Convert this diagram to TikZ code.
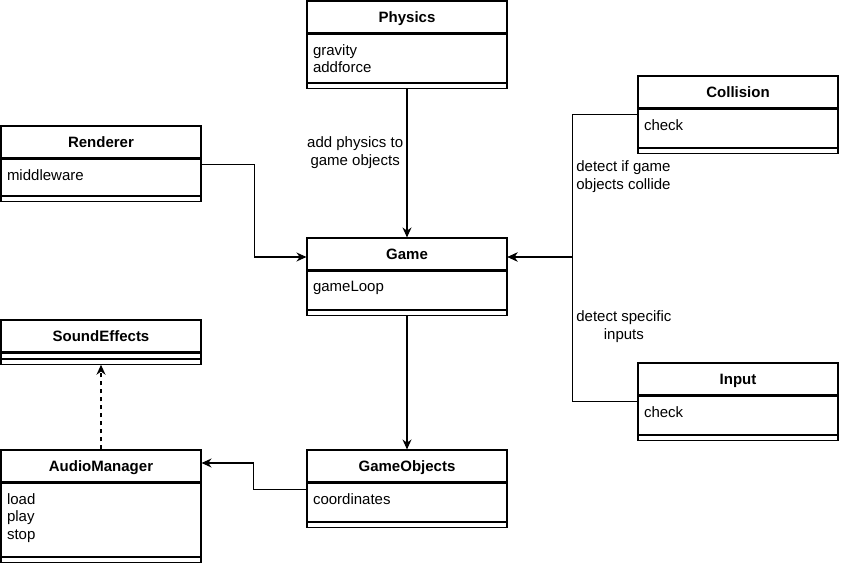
\documentclass[tikz,border=0pt]{standalone}
\usepackage{fontspec}
\setmainfont{Liberation Sans}
\usetikzlibrary{arrows.meta}
\usetikzlibrary{positioning}

\begin{document}
\begin{tikzpicture}[x=1pt,y=-1pt,line width=1.1pt,>={Stealth[length=10pt,width=9pt]},
    head/.style={draw,minimum width=200pt,minimum height=32pt,inner sep=0,text height=11pt,text depth=0pt,font=\fontsize{15}{18}\selectfont\bfseries},
    body/.style={draw,anchor=north,minimum width=200pt,inner sep=0},
    foot/.style={draw,anchor=north,minimum width=200pt,minimum height=5pt,inner sep=0},
    attr/.style={anchor=north west,align=left,inner xsep=6pt,inner ysep=10.5pt,font=\fontsize{15}{17.5}\selectfont},
    lbl/.style={font=\fontsize{15}{18}\selectfont}]
    \useasboundingbox (0,0) rectangle (844,564);

    \node(physics)[head] at (407,17) {Physics};
    \node(physicsbody)[body,minimum height=48pt] at (physics.south) {};
    \node(physicsfoot)[foot] at (physicsbody.south) {};
    \node(physicsattr)[attr] at (physicsbody.north west) {gravity\\addforce};

    \node(renderer)[head] at (101,142) {Renderer};
    \node(rendererbody)[body,minimum height=36pt] at (renderer.south) {};
    \node(rendererfoot)[foot] at (rendererbody.south) {};
    \node(rendererattr)[attr] at (rendererbody.north west) {middleware};

    \node(game)[head] at (407,254) {Game};
    \node(gamebody)[body,minimum height=38pt] at (game.south) {};
    \node(gamefoot)[foot] at (gamebody.south) {};
    \node(gameattr)[attr] at (gamebody.north west) {gameLoop};

    \node(collision)[head] at (738,92) {Collision};
    \node(collisionbody)[body,minimum height=38pt] at (collision.south) {};
    \node(collisionfoot)[foot] at (collisionbody.south) {};
    \node(collisionattr)[attr] at (collisionbody.north west) {check};

    \node(input)[head] at (738,379) {Input};
    \node(inputbody)[body,minimum height=38pt] at (input.south) {};
    \node(inputfoot)[foot] at (inputbody.south) {};
    \node(inputattr)[attr] at (inputbody.north west) {check};

    \node(sound)[head] at (101,336) {SoundEffects};
    \node(soundbody)[body,minimum height=5pt] at (sound.south) {};
    \node(soundfoot)[foot] at (soundbody.south) {};

    \node(audio)[head] at (101,466) {AudioManager};
    \node(audiobody)[body,minimum height=73pt] at (audio.south) {};
    \node(audiofoot)[foot] at (audiobody.south) {};
    \node(audioattr)[attr] at (audiobody.north west) {load\\play\\stop};

    \node(gameobjects)[head] at (407,466) {GameObjects};
    \node(gameobjectsbody)[body,minimum height=38pt] at (gameobjects.south) {};
    \node(gameobjectsfoot)[foot] at (gameobjectsbody.south) {};
    \node(gameobjectsattr)[attr] at (gameobjectsbody.north west) {coordinates};

    \draw[->] (physicsfoot.south)--node[lbl,pos=0.43,left,align=center]{add physics to\\game objects}(game.north);
    \draw[->] ([yshift=13pt]rendererbody.east)-- ++(53,0) |- ([yshift=-3pt]game.west);
    \draw[->] ([yshift=14pt]collisionbody.west)-- ++(-65,0) |- node[lbl,pos=0.22,anchor=west,align=left]{detect if game\\objects collide}([yshift=-3pt]game.east);
    \draw[->] ([yshift=14pt]inputbody.west)-- ++(-65,0) |- node[lbl,pos=0.26,anchor=west,align=center]{detect specific\\inputs}([yshift=-3pt]game.east);
    \draw[->] (gamefoot.south)--(gameobjects.north);
    \draw[->] ([yshift=13pt]gameobjectsbody.west)-- ++(-53,0) |- ([yshift=3pt]audio.east);
    \draw[->,dash pattern=on 4pt off 4pt] (audio.north)--(soundfoot.south);
\end{tikzpicture}
\end{document}
